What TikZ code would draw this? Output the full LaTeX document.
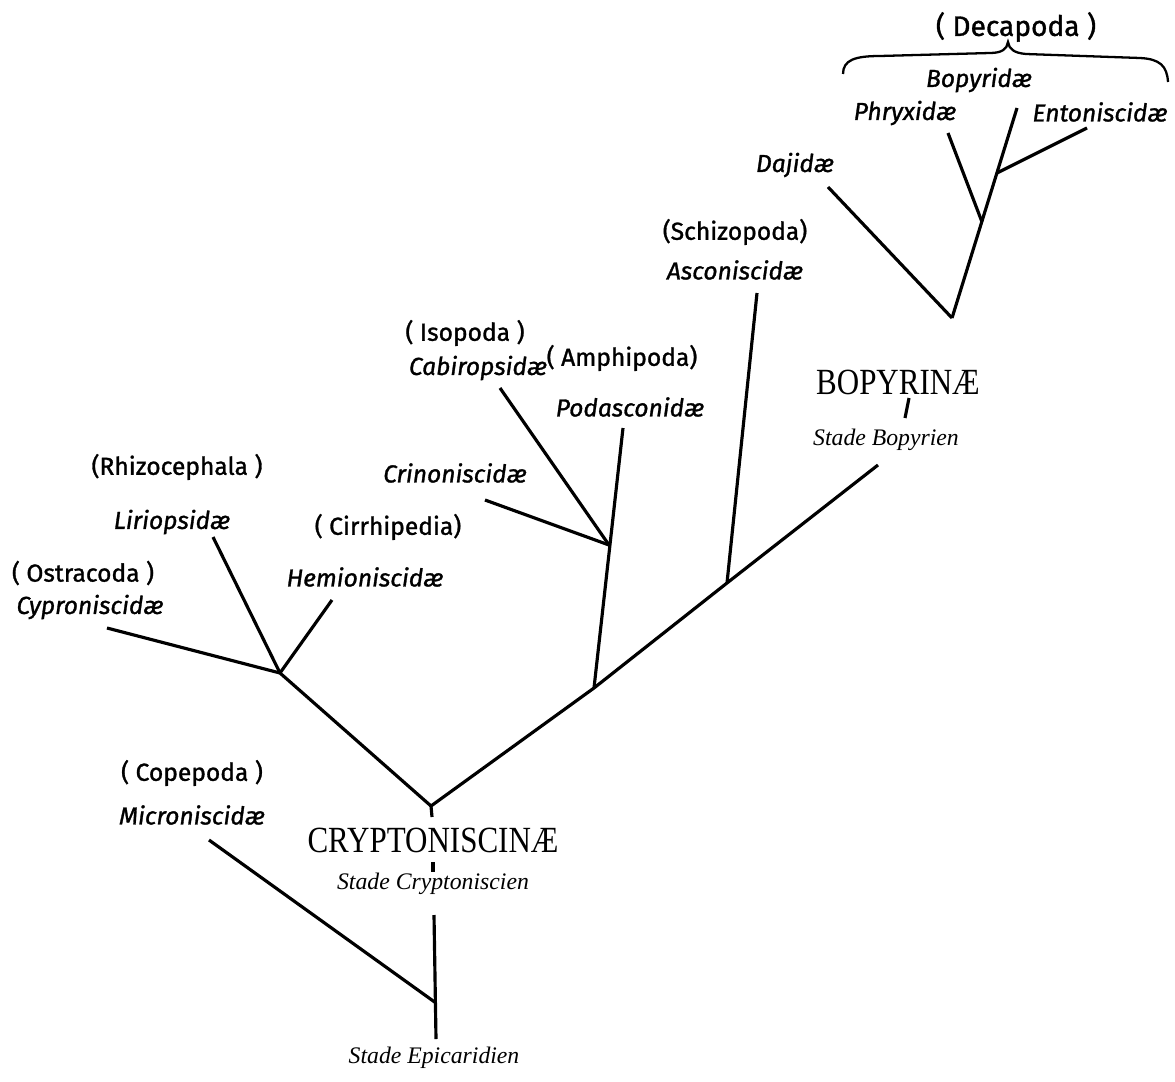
\documentclass[tikz,border=0pt]{standalone}
\usepackage{fontspec}
\newfontfamily\handfont{Fira Sans}[FakeBold=1.2]
\newfontfamily\romanfont{Liberation Serif}
\usetikzlibrary{positioning}

\begin{document}
\begin{tikzpicture}[
  x=0.2mm, y=-0.2mm,
  branch/.style={draw=black, line width=1.8pt},
  bracepath/.style={draw=black, line width=1.3pt},
  famname/.style={font=\handfont\itshape\fontsize{14}{16}\selectfont, inner sep=1pt},
  ordname/.style={font=\handfont\fontsize{14}{16}\selectfont, inner sep=1pt},
  subfam/.style={font=\romanfont\fontsize{21}{24}\selectfont, inner sep=1pt},
  stadename/.style={font=\romanfont\itshape\fontsize{13.5}{15}\selectfont, inner sep=1pt}
]
  \useasboundingbox (0,0) rectangle (1175,1081);

  % labels
  \node[ordname, font=\handfont\fontsize{16}{18}\selectfont] (decapoda) at (1016,27) {( Decapoda )};
  \node[famname] (bopyridae) at (979,80) {Bopyridæ};
  \node[famname] (phryxidae) at (905,113) {Phryxidæ};
  \node[famname] (entoniscidae) at (1100,112) {Entoniscidæ};
  \node[famname] (dajidae) at (795,165) {Dajidæ};
  \node[ordname] (schizopoda) at (735,232) {(Schizopoda)};
  \node[famname] (asconiscidae) at (735,270) {Asconiscidæ};
  \node[ordname] (isopoda) at (465,333) {( Isopoda )};
  \node[famname] (cabiropsidae) at (478,368) {Cabiropsidæ};
  \node[ordname] (amphipoda) at (622,358) {( Amphipoda)};
  \node[famname] (podasconidae) at (630,407) {Podasconidæ};
  \node[famname] (crinoniscidae) at (455,473) {Crinoniscidæ};
  \node[ordname] (rhizocephala) at (177,467) {(Rhizocephala )};
  \node[famname] (liriopsidae) at (172,522) {Liriopsidæ};
  \node[ordname] (cirrhipedia) at (388,527) {( Cirrhipedia)};
  \node[famname] (hemioniscidae) at (365,577) {Hemioniscidæ};
  \node[ordname] (ostracoda) at (83,573) {( Ostracoda )};
  \node[famname] (cyproniscidae) at (90,607) {Cyproniscidæ};
  \node[ordname] (copepoda) at (192,773) {( Copepoda )};
  \node[famname] (microniscidae) at (192,815) {Microniscidæ};
  \node[subfam] (cryptoniscinae) at (433,840) {\scalebox{0.84}[1]{CRYPTONISCINÆ}};
  \node[stadename] (stadecrypt) at (433,884) {Stade Cryptoniscien};
  \node[subfam] (bopyrinae) at (898,382) {\scalebox{0.84}[1]{BOPYRINÆ}};
  \node[stadename] (stadebop) at (886,440) {Stade Bopyrien};
  \node[stadename] (stadeepi) at (434,1058) {Stade Epicaridien};

  % forks and branch ends
  \coordinate (epiend) at (436,1039);
  \coordinate (fmicro) at (436,1003);
  \coordinate (epitop) at (434,915);
  \coordinate (micend) at (209,840);
  \coordinate (crypt) at (431,806);
  \coordinate (crtick1) at (432,817);
  \coordinate (crtick2a) at (433,862);
  \coordinate (crtick2b) at (433,872);
  \coordinate (fleft) at (280,673);
  \coordinate (lirend) at (213,537);
  \coordinate (hemend) at (332,600);
  \coordinate (cypend) at (107,628);
  \coordinate (fpod) at (594,688);
  \coordinate (fcab) at (609,545);
  \coordinate (podend) at (623,428);
  \coordinate (cabend) at (500,388);
  \coordinate (crinend) at (485,500);
  \coordinate (fasc) at (727,583);
  \coordinate (ascend) at (757,293);
  \coordinate (bopend) at (878,465);
  \coordinate (bptick1) at (905,418);
  \coordinate (bptick2) at (909,398);
  \coordinate (fbop) at (952,318);
  \coordinate (dajend) at (828,187);
  \coordinate (fphr) at (982,222);
  \coordinate (phrend) at (948,133);
  \coordinate (fent) at (997,173);
  \coordinate (entend) at (1087,128);
  \coordinate (bopyend) at (1017,108);

  % Epicaridien stem
  \draw[branch] (epitop) -- (epiend);
  \draw[branch] (micend) -- (fmicro);
  \draw[branch] (crypt) -- (crtick1);
  \draw[branch] (crtick2a) -- (crtick2b);

  % Cryptoniscinae
  \draw[branch] (crypt) -- (fleft);
  \draw[branch] (lirend) -- (fleft);
  \draw[branch] (hemend) -- (fleft);
  \draw[branch] (cypend) -- (fleft);
  \draw[branch] (crypt) -- (fpod) -- (fasc) -- (bopend);
  \draw[branch] (fpod) -- (podend);
  \draw[branch] (cabend) -- (fcab);
  \draw[branch] (crinend) -- (fcab);
  \draw[branch] (fasc) -- (ascend);

  % Bopyrinae
  \draw[branch] (bptick1) -- (bptick2);
  \draw[branch] (fbop) -- (bopyend);
  \draw[branch] (dajend) -- (fbop);
  \draw[branch] (phrend) -- (fphr);
  \draw[branch] (entend) -- (fent);

  % brace over the Decapoda
  \draw[bracepath] (843,74) .. controls (843,60) and (855,56) .. (880,56)
    -- (990,53) .. controls (1002,53) and (1007,49) .. (1008,42)
    .. controls (1009,49) and (1014,53) .. (1026,54)
    -- (1140,58) .. controls (1160,59) and (1167,66) .. (1168,82);
\end{tikzpicture}
\end{document}
